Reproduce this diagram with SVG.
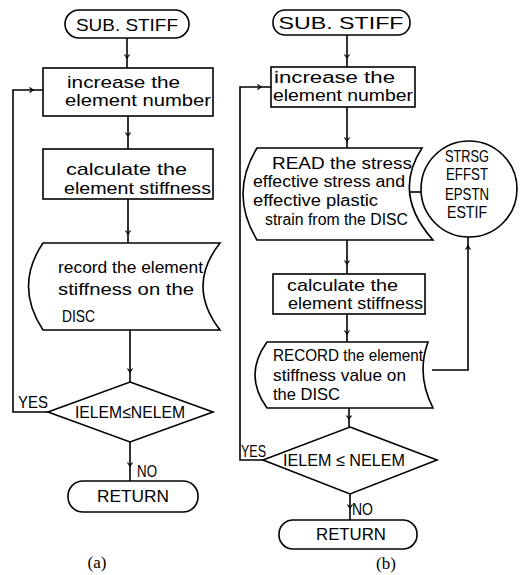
<svg xmlns="http://www.w3.org/2000/svg" xmlns:xlink="http://www.w3.org/1999/xlink" width="521" height="575" viewBox="0 0 521 575">
<style>
.s{fill:#fff;stroke:#000;stroke-width:1.6}
.c{fill:none;stroke:#000;stroke-width:1.6}
.t{font-family:"Liberation Sans",Arial,sans-serif;font-size:17px;fill:#000}
.r{font-family:"Liberation Sans",Arial,sans-serif;font-size:16px;fill:#000}
.u{font-family:"Liberation Sans",Arial,sans-serif;font-size:17px;fill:#000}
.m{text-anchor:middle}
.cap{font-family:"Liberation Serif","Times New Roman",serif;font-size:17px;fill:#000;text-anchor:middle}
</style>
<defs>
<path id="ah" d="M-2.5,-3.5 L0,0 L2.5,-3.5" fill="none" stroke="#000" stroke-width="1.2"/>
</defs>
<rect width="521" height="575" fill="#fff"/>
<g id="connectors">
<path class="c" d="M127,38 V68"/>
<path class="c" d="M128,116 V149"/>
<path class="c" d="M128,199 V243"/>
<path class="c" d="M130,330 V382"/>
<path class="c" d="M48,412 H13 V90 H43"/>
<path class="c" d="M130,442 V481"/>
<path class="c" d="M347,35 V67"/>
<path class="c" d="M347,107 V148"/>
<path class="c" d="M263,460 H240 V87 H271"/>
<path class="c" d="M410,192 H421"/>
<path class="c" d="M347,240 V274"/>
<path class="c" d="M468,237 V370 H432"/>
<path class="c" d="M347,314 V342"/>
<path class="c" d="M349,408 V427"/>
<path class="c" d="M350,494 V520"/>
<use xlink:href="#ah" transform="translate(127,58)"/>
<use xlink:href="#ah" transform="translate(128,136)"/>
<use xlink:href="#ah" transform="translate(128,234)"/>
<use xlink:href="#ah" transform="translate(130,372)"/>
<use xlink:href="#ah" transform="translate(33,90) rotate(-90)"/>
<use xlink:href="#ah" transform="translate(130,466)"/>
<use xlink:href="#ah" transform="translate(347,58)"/>
<use xlink:href="#ah" transform="translate(347,141)"/>
<use xlink:href="#ah" transform="translate(347,264)"/>
<use xlink:href="#ah" transform="translate(347,334)"/>
<use xlink:href="#ah" transform="translate(349,419)"/>
<use xlink:href="#ah" transform="translate(261,87) rotate(-90)"/>
<use xlink:href="#ah" transform="translate(468,246) rotate(180)"/>
<use xlink:href="#ah" transform="translate(350,508)"/>
</g>
<g id="a-start">
<rect class="s" x="65" y="10" width="124" height="28" rx="14"/>
<text class="u m" x="127" y="31" font-size="19" textLength="102" lengthAdjust="spacingAndGlyphs">SUB. STIFF</text>
</g>
<g id="a-increase">
<rect class="s" x="43" y="68" width="170" height="48"/>
<text class="t" x="67" y="88" textLength="113" lengthAdjust="spacingAndGlyphs">increase  the</text>
<text class="t" x="65" y="106" textLength="146" lengthAdjust="spacingAndGlyphs">element  number</text>
</g>
<g id="a-calc">
<rect class="s" x="43" y="149" width="170" height="50"/>
<text class="t" x="66" y="175" textLength="121" lengthAdjust="spacingAndGlyphs">calculate  the</text>
<text class="t" x="64" y="194" textLength="147" lengthAdjust="spacingAndGlyphs">element  stiffness</text>
</g>
<g id="a-record">
<path class="s" d="M43,243 L220,243 Q186,286 220,330 L43,330 Q14,286 43,243 Z"/>
<text class="t" x="58" y="273" textLength="145" lengthAdjust="spacingAndGlyphs">record the element</text>
<text class="t" x="58" y="295" textLength="136" lengthAdjust="spacingAndGlyphs">stiffness  on  the</text>
<text class="t" x="62" y="322" textLength="33" lengthAdjust="spacingAndGlyphs">DISC</text>
</g>
<g id="a-decision">
<path class="s" d="M130,382 L213,412 L130,442 L48,412 Z"/>
<text class="u m" x="130" y="418" textLength="110" lengthAdjust="spacingAndGlyphs">IELEM≤NELEM</text>
<text class="t" x="18" y="408" textLength="30" lengthAdjust="spacingAndGlyphs">YES</text>
<text class="t" x="137" y="477" textLength="20" lengthAdjust="spacingAndGlyphs">NO</text>
</g>
<g id="a-return">
<rect class="s" x="68" y="481" width="130" height="31" rx="15"/>
<text class="u m" x="133" y="502" textLength="72" lengthAdjust="spacingAndGlyphs">RETURN</text>
</g>
<text class="cap" x="97" y="568">(a)</text>
<g id="b-start">
<rect class="s" x="273" y="10" width="137" height="25" rx="12"/>
<text class="u m" x="341" y="29" textLength="125" lengthAdjust="spacingAndGlyphs">SUB.  STIFF</text>
</g>
<g id="b-increase">
<rect class="s" x="271" y="67" width="144" height="40"/>
<text class="r" x="274" y="83" textLength="121" lengthAdjust="spacingAndGlyphs">increase  the</text>
<text class="r" x="273" y="101" textLength="140" lengthAdjust="spacingAndGlyphs">element number</text>
</g>
<g id="b-read">
<path class="s" d="M257,148 L422,148 Q392,194 433,240 L257,240 Q229,194 257,148 Z"/>
<text class="r" x="272" y="169" textLength="140" lengthAdjust="spacingAndGlyphs">READ  the stress</text>
<text class="r" x="253" y="187" textLength="152" lengthAdjust="spacingAndGlyphs">effective stress and</text>
<text class="r" x="253" y="206" textLength="125" lengthAdjust="spacingAndGlyphs">effective plastic</text>
<text class="r" x="265" y="225" textLength="143" lengthAdjust="spacingAndGlyphs">strain from the DISC</text>
</g>
<g id="b-disc">
<circle class="s" cx="469" cy="189" r="48"/>
<text class="u m" x="467" y="162" textLength="44" lengthAdjust="spacingAndGlyphs">STRSG</text>
<text class="u m" x="467" y="180" textLength="42" lengthAdjust="spacingAndGlyphs">EFFST</text>
<text class="u m" x="467" y="200" textLength="44" lengthAdjust="spacingAndGlyphs">EPSTN</text>
<text class="u m" x="467" y="218" textLength="40" lengthAdjust="spacingAndGlyphs">ESTIF</text>
</g>
<g id="b-calc">
<rect class="s" x="273" y="274" width="152" height="40"/>
<text class="t" x="287" y="291" textLength="111" lengthAdjust="spacingAndGlyphs">calculate  the</text>
<text class="t" x="288" y="309" textLength="135" lengthAdjust="spacingAndGlyphs">element stiffness</text>
</g>
<g id="b-record">
<path class="s" d="M267,342 L428,342 Q416,375 433,408 L267,408 Q243,375 267,342 Z"/>
<text class="t" x="273" y="361" textLength="150" lengthAdjust="spacingAndGlyphs">RECORD the  element</text>
<text class="t" x="273" y="381" textLength="133" lengthAdjust="spacingAndGlyphs">stiffness value on</text>
<text class="t" x="273" y="400" textLength="67" lengthAdjust="spacingAndGlyphs">the DISC</text>
</g>
<g id="b-decision">
<path class="s" d="M350,427 L437,460 L350,494 L263,460 Z"/>
<text class="u m" x="344" y="466" textLength="122" lengthAdjust="spacingAndGlyphs">IELEM ≤ NELEM</text>
<text class="t" x="241" y="457" textLength="25" lengthAdjust="spacingAndGlyphs">YES</text>
<text class="t" x="352" y="515" textLength="21" lengthAdjust="spacingAndGlyphs">NO</text>
</g>
<g id="b-return">
<rect class="s" x="279" y="520" width="138" height="29" rx="14"/>
<text class="u m" x="351" y="540" textLength="70" lengthAdjust="spacingAndGlyphs">RETURN</text>
</g>
<text class="cap" x="386" y="569">(b)</text>
</svg>
